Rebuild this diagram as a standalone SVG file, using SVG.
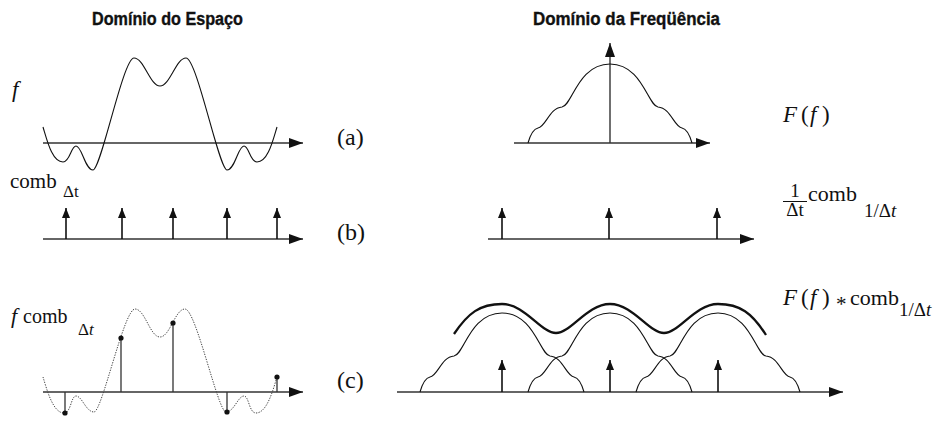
<svg xmlns="http://www.w3.org/2000/svg" width="948" height="425" viewBox="0 0 948 425">
<style>
.title{font-family:"Liberation Sans",Arial,sans-serif;font-weight:bold;font-size:18px;fill:#111;stroke:#111;stroke-width:0.35}
.m{font-family:"Liberation Serif","Times New Roman",serif;fill:#111}
.i{font-style:italic}
.axis{stroke:#333;stroke-width:1.4;fill:none}
.curve{stroke:#111;stroke-width:1.1;fill:none}
.dotted{stroke:#444;stroke-width:1;fill:none;stroke-dasharray:1.3 1.3}
.stem{stroke:#333;stroke-width:1.3;fill:none}
.imp{stroke:#111;stroke-width:1.6;fill:none}
.env{stroke:#111;stroke-width:2.3;fill:none}
</style>
<defs>
<marker id="ah" markerUnits="userSpaceOnUse" markerWidth="14" markerHeight="10" refX="14" refY="5" orient="auto"><path d="M0,0 L14,5 L0,10 z" fill="#111"/></marker>
<marker id="ih" markerUnits="userSpaceOnUse" markerWidth="10" markerHeight="8" refX="10" refY="4" orient="auto"><path d="M0,0 L10,4 L0,8 z" fill="#111"/></marker>
<path id="bump" d="M528,143 C530,136 533,129 538,128 C546,127 549,108 562,107 C572,106 578,64 610,64 C642,64 648,106 658,107 C671,108 674,127 682,128 C687,129 690,136 692,143"/>
</defs>

<g id="title-space"><text class="title" x="92" y="25" textLength="151" lengthAdjust="spacingAndGlyphs">Domínio do Espaço</text></g>
<g id="title-freq"><text class="title" x="533" y="25" textLength="187" lengthAdjust="spacingAndGlyphs">Domínio da Freqüência</text></g>

<g id="connectors">
<path class="axis" d="M43,143 H303" marker-end="url(#ah)"/>
<path class="axis" d="M43,239 H303" marker-end="url(#ah)"/>
<path class="axis" d="M43,392 H303" marker-end="url(#ah)"/>
<path class="axis" d="M514,143 H710" marker-end="url(#ah)"/>
<path class="axis" d="M610,143 V43" marker-end="url(#ah)"/>
<path class="axis" d="M488,239 H754" marker-end="url(#ah)"/>
<path class="axis" d="M397,392 H843" marker-end="url(#ah)"/>
</g>

<g id="plot-a-space">
<path class="curve" d="M43,127 C47,140 52,162 63,162 C70,162 71,146 76,146 C82,146 85,170 93,170 C101,170 123,58 134,58 C144,58 150,86 160,86 C170,86 176,58 186,58 C197,58 219,170 227,170 C235,170 238,146 244,146 C249,146 250,162 257,162 C268,162 273,140 277,127"/>
<text class="m i" x="12" y="97" font-size="23">f</text>
</g>

<g id="plot-b-space">
<path class="imp" d="M66,239 V208" marker-end="url(#ih)"/>
<path class="imp" d="M122,239 V208" marker-end="url(#ih)"/>
<path class="imp" d="M173,239 V208" marker-end="url(#ih)"/>
<path class="imp" d="M227,239 V208" marker-end="url(#ih)"/>
<path class="imp" d="M277,239 V208" marker-end="url(#ih)"/>
<text class="m" x="10" y="188" font-size="21">comb</text>
<text class="m" x="63" y="197" font-size="17">Δt</text>
</g>

<g id="plot-c-space">
<path class="dotted" d="M43,377 C47,390 53,413 64,413 C71,413 71,396 76,396 C82,396 86,412 94,412 C102,412 124,309 135,309 C145,309 150,337 160,337 C170,337 175,309 185,309 C196,309 218,412 226,412 C234,412 238,396 244,396 C249,396 249,413 256,413 C267,413 273,390 277,377"/>
<path class="stem" d="M65,392 V413 M121,392 V338 M173,392 V323 M227,392 V412 M277,392 V377"/>
<g fill="#111">
<circle cx="65" cy="413" r="2.6"/><circle cx="121" cy="338" r="2.6"/><circle cx="173" cy="323" r="2.6"/><circle cx="227" cy="412" r="2.6"/><circle cx="277" cy="377" r="2.6"/>
</g>
<text class="m i" x="11" y="323" font-size="22">f</text>
<text class="m" x="23" y="323" font-size="20">comb</text>
<text class="m" x="78" y="335" font-size="17">Δ<tspan class="i">t</tspan></text>
</g>

<g id="labels-abc">
<text class="m" x="337" y="145" font-size="24">(a)</text>
<text class="m" x="337" y="240" font-size="24">(b)</text>
<text class="m" x="337" y="388" font-size="24">(c)</text>
</g>

<g id="plot-a-freq">
<use href="#bump" class="curve"/>
<text class="m" font-size="23" y="122"><tspan class="i" x="783">F</tspan><tspan x="801">(</tspan><tspan class="i" x="810">f</tspan><tspan x="822">)</tspan></text>
</g>

<g id="plot-b-freq">
<path class="imp" d="M502,239 V208" marker-end="url(#ih)"/>
<path class="imp" d="M609,239 V208" marker-end="url(#ih)"/>
<path class="imp" d="M717,239 V208" marker-end="url(#ih)"/>
<text class="m" x="795" y="197" font-size="19" text-anchor="middle">1</text>
<path d="M783,201.5 H807" stroke="#111" stroke-width="1"/>
<text class="m" x="795" y="216" font-size="19" text-anchor="middle">Δt</text>
<text class="m" x="808" y="201" font-size="22">comb</text>
<text class="m" x="864" y="217" font-size="19">1/Δ<tspan class="i">t</tspan></text>
</g>

<g id="plot-c-freq">
<use href="#bump" class="curve" transform="translate(-108,249)"/>
<use href="#bump" class="curve" transform="translate(0,249)"/>
<use href="#bump" class="curve" transform="translate(108,249)"/>
<path class="env" d="M454,334 C468,313 480,304 502,304 C525,304 541,333 556,333 C571,333 587,304 610,304 C633,304 649,333 664,333 C679,333 695,304 718,304 C740,304 752,313 766,335"/>
<path class="imp" d="M502,392 V360" marker-end="url(#ih)"/>
<path class="imp" d="M610,392 V360" marker-end="url(#ih)"/>
<path class="imp" d="M718,392 V360" marker-end="url(#ih)"/>
<text class="m" font-size="23" y="305"><tspan class="i" x="783">F</tspan><tspan x="801">(</tspan><tspan class="i" x="810">f</tspan><tspan x="822">)</tspan></text>
<text class="m" x="836" y="311" font-size="21">*</text>
<text class="m" x="850" y="305" font-size="22">comb</text>
<text class="m" x="899" y="316" font-size="19">1/Δ<tspan class="i">t</tspan></text>
</g>
</svg>
